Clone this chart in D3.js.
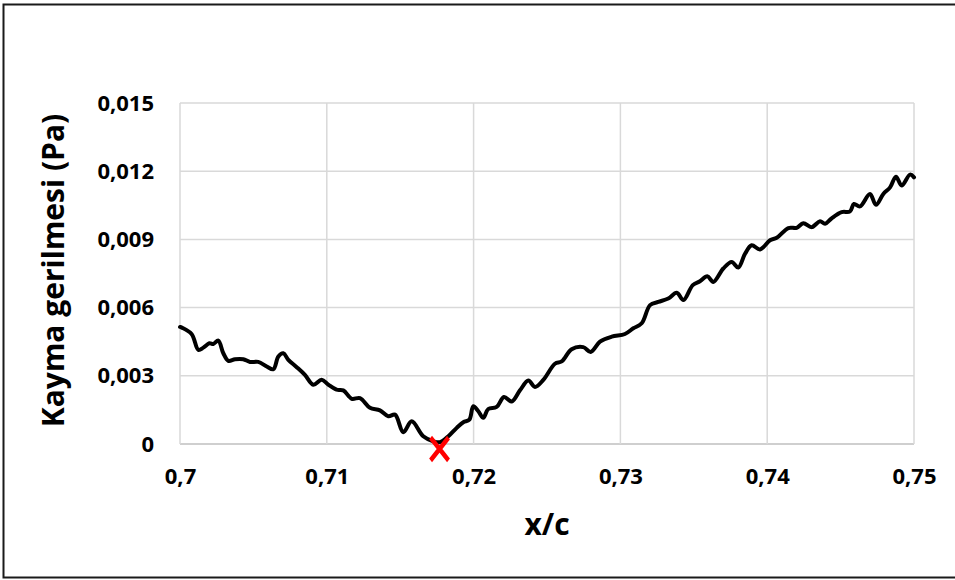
<!DOCTYPE html>
<html>
<head>
<meta charset="utf-8">
<script src="https://cdn.jsdelivr.net/npm/d3@7"></script>
<style>
  html, body { margin: 0; padding: 0; background: #fff; }
  svg { display: block; }
  text { font-family: "Open Sans", "Liberation Sans", sans-serif; font-weight: bold; fill: #000; }
</style>
</head>
<body>
<svg id="chart" width="955" height="580"></svg>
<script>
// ---- data ----
const xValues = [0.7, 0.70012, 0.70080, 0.70125, 0.70159, 0.70200, 0.70227, 0.70261, 0.70295, 0.70329,
  0.70375, 0.70431, 0.70477, 0.70533, 0.70591, 0.70636, 0.70670, 0.70704, 0.70738, 0.70795,
  0.70851, 0.70908, 0.70965, 0.71010, 0.71067, 0.71112, 0.71170, 0.71226, 0.71294, 0.71362,
  0.71419, 0.71465, 0.71521, 0.71578, 0.71657, 0.71725, 0.71771, 0.71828, 0.71885, 0.71930,
  0.71971, 0.71998, 0.72032, 0.72066, 0.72100, 0.72157, 0.72207, 0.72260, 0.72316, 0.72373,
  0.72418, 0.72475, 0.72554, 0.72600, 0.72668, 0.72747, 0.72798, 0.72861, 0.72941, 0.73031,
  0.73088, 0.73145, 0.73202, 0.73258, 0.73326, 0.73384, 0.73429, 0.73493, 0.73542, 0.73592,
  0.73633, 0.73701, 0.73758, 0.73803, 0.73849, 0.73894, 0.73951, 0.74019, 0.74065, 0.74144,
  0.74201, 0.74246, 0.74303, 0.74360, 0.74394, 0.74439, 0.74507, 0.74564, 0.74591, 0.74632,
  0.74700, 0.74741, 0.74791, 0.74837, 0.74877, 0.74916, 0.74973, 0.75];
const stressValues = [0.00515, 0.00512, 0.00483, 0.00414, 0.00424, 0.00443, 0.00440, 0.00455, 0.00399, 0.00366,
  0.00373, 0.00373, 0.00361, 0.00361, 0.00341, 0.00329, 0.00385, 0.00399, 0.00370, 0.00338,
  0.00304, 0.00261, 0.00283, 0.00261, 0.00239, 0.00236, 0.00199, 0.00202, 0.00159, 0.00148,
  0.00122, 0.00129, 0.00052, 0.00100, 0.00034, 0.00012, 0.00008, 0.00034, 0.00071, 0.00096,
  0.00107, 0.00166, 0.00144, 0.00115, 0.00154, 0.00163, 0.00207, 0.00187, 0.00236, 0.00279,
  0.00251, 0.00282, 0.00353, 0.00363, 0.00417, 0.00426, 0.00405, 0.00450, 0.00472, 0.00484,
  0.00509, 0.00531, 0.00611, 0.00625, 0.00640, 0.00665, 0.00633, 0.00699, 0.00716, 0.00738,
  0.00713, 0.00772, 0.00801, 0.00776, 0.00837, 0.00874, 0.00856, 0.00896, 0.00907, 0.00950,
  0.00951, 0.00971, 0.00954, 0.00980, 0.00969, 0.00993, 0.01020, 0.01023, 0.01056, 0.01045,
  0.01100, 0.01052, 0.01100, 0.01129, 0.01176, 0.01137, 0.01185, 0.01173];
const xTicks = [0.70, 0.71, 0.72, 0.73, 0.74, 0.75];
const xTickLabels = ["0,7", "0,71", "0,72", "0,73", "0,74", "0,75"];
const yTicks = [0, 0.003, 0.006, 0.009, 0.012, 0.015];
const yTickLabels = ["0", "0,003", "0,006", "0,009", "0,012", "0,015"];
const minPointX = [0.71768];
const minPointY = [0];
const xTitle = "x/c";
const yTitle = "Kayma gerilmesi (Pa)";

// ---- layout ----
const svg = d3.select("#chart");
const plot = { left: 180, right: 914, top: 103, bottom: 444 };

const x = d3.scaleLinear().domain([0.70, 0.75]).range([plot.left, plot.right]);
const y = d3.scaleLinear().domain([0, 0.015]).range([plot.bottom, plot.top]);

// outer frame
svg.append("rect")
  .attr("x", 3.5).attr("y", 4.5)
  .attr("width", 960).attr("height", 573)
  .attr("fill", "#fff").attr("stroke", "#1a1a1a").attr("stroke-width", 2);

// gridlines
svg.append("g").selectAll("line").data(yTicks).join("line")
  .attr("x1", plot.left).attr("x2", plot.right)
  .attr("y1", d => y(d)).attr("y2", d => y(d))
  .attr("stroke", d => d === 0 ? "#bfbfbf" : "#d9d9d9")
  .attr("stroke-width", 1.5);
svg.append("g").selectAll("line").data(xTicks).join("line")
  .attr("x1", d => x(d)).attr("x2", d => x(d))
  .attr("y1", plot.top).attr("y2", plot.bottom)
  .attr("stroke", "#d9d9d9")
  .attr("stroke-width", 1.5);

// axes (labels only)
const xAxis = d3.axisBottom(x).tickValues(xTicks)
  .tickFormat((d, i) => xTickLabels[i]).tickSize(0).tickPadding(24);
svg.append("g").attr("transform", `translate(0,${plot.bottom})`).call(xAxis)
  .call(g => g.select(".domain").remove())
  .call(g => g.selectAll("text").style("font-size", "22px").style("font-family", "'Open Sans'").style("font-weight", "bold").attr("fill", "#000"));

const yAxis = d3.axisLeft(y).tickValues(yTicks)
  .tickFormat((d, i) => yTickLabels[i]).tickSize(0).tickPadding(26);
svg.append("g").attr("transform", `translate(${plot.left},0)`).call(yAxis)
  .call(g => g.select(".domain").remove())
  .call(g => g.selectAll("text").style("font-size", "22px").style("font-family", "'Open Sans'").style("font-weight", "bold").attr("fill", "#000"));

// line
const data = xValues.map((v, i) => ({ x: v, y: stressValues[i] }));
const line = d3.line().x(d => x(d.x)).y(d => y(d.y)).curve(d3.curveCatmullRom.alpha(0.5));
svg.append("path").datum(data)
  .attr("d", line)
  .attr("fill", "none").attr("stroke", "#000").attr("stroke-width", 4)
  .attr("stroke-linejoin", "round").attr("stroke-linecap", "round");

// minimum marker (red X)
svg.append("g").selectAll("path").data(minPointX).join("path")
  .attr("transform", (d, i) => `translate(${x(d)},${y(minPointY[i]) + 5}) scale(0.9,1.15)`)
  .attr("d", d3.symbol().type(d3.symbolX).size(260))
  .attr("fill", "none").attr("stroke", "#ff0000").attr("stroke-width", 4.5);

// titles
svg.append("text")
  .attr("x", (plot.left + plot.right) / 2).attr("y", 535)
  .attr("text-anchor", "middle")
  .style("font-size", "30px")
  .text(xTitle);
svg.append("text")
  .attr("transform", `translate(64,${(plot.top + plot.bottom) / 2 - 3}) rotate(-90)`)
  .attr("text-anchor", "middle")
  .style("font-size", "30px")
  .text(yTitle);
</script>
</body>
</html>
